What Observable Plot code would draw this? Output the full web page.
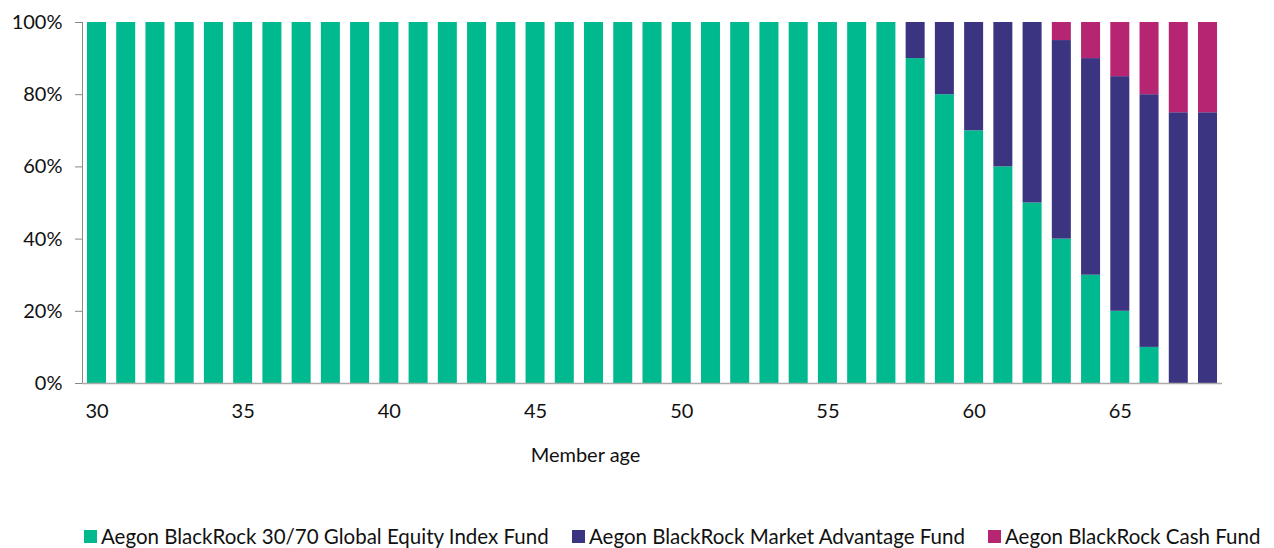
<!DOCTYPE html>
<html>
<head>
<meta charset="utf-8">
<script src="https://cdn.jsdelivr.net/npm/d3@7"></script>
<script src="https://cdn.jsdelivr.net/npm/@observablehq/plot@0.6"></script>
<style>
  html, body { margin: 0; padding: 0; background: #fff; }
  body { width: 1274px; height: 548px; overflow: hidden; font-family: Lato, "Open Sans", sans-serif; }
  #chart svg { display: block; }
  #legend { position: relative; height: 73px; font-size: 20.5px; color: #111; }
  .item { position: absolute; top: 49px; display: flex; align-items: center; white-space: nowrap; }
  .sw { width: 13px; height: 13px; margin-right: 4px; display: inline-block; }
</style>
</head>
<body>
<div id="chart"></div>
<div id="legend"></div>
<script>
const ages = [30,31,32,33,34,35,36,37,38,39,40,41,42,43,44,45,46,47,48,49,50,51,52,53,54,55,56,57,58,59,60,61,62,63,64,65,66,67,68];
const seriesNames = ["Aegon BlackRock 30/70 Global Equity Index Fund", "Aegon BlackRock Market Advantage Fund", "Aegon BlackRock Cash Fund"];
const seriesColors = ["#00B98E", "#3B3481", "#B52572"];
const equity = [100,100,100,100,100,100,100,100,100,100,100,100,100,100,100,100,100,100,100,100,100,100,100,100,100,100,100,100,90,80,70,60,50,40,30,20,10,0,0];
const marketAdvantage = [0,0,0,0,0,0,0,0,0,0,0,0,0,0,0,0,0,0,0,0,0,0,0,0,0,0,0,0,10,20,30,40,50,55,60,65,70,75,75];
const cash = [0,0,0,0,0,0,0,0,0,0,0,0,0,0,0,0,0,0,0,0,0,0,0,0,0,0,0,0,0,0,0,0,0,5,10,15,20,25,25];
const xTicks = [30,35,40,45,50,55,60,65];
const yTicks = [0,20,40,60,80,100];

const seriesValues = [equity, marketAdvantage, cash];
const data = [];
seriesNames.forEach((s, si) => ages.forEach((a, i) => data.push({age: a, fund: s, value: seriesValues[si][i]})));

const chart = Plot.plot({
  width: 1274,
  height: 475,
  marginLeft: 82,
  marginRight: 52,
  marginTop: 22,
  marginBottom: 92,
  style: {fontFamily: "Lato, 'Open Sans', sans-serif", fontSize: "20px", color: "#111", background: "#fff"},
  x: {type: "band", domain: ages, paddingInner: 0.35, paddingOuter: 0.17, round: false, label: null},
  y: {domain: [0, 100], label: null},
  color: {domain: seriesNames, range: seriesColors},
  marks: [
    Plot.barY(data, {x: "age", y: "value", fill: "fund", order: seriesNames}),
    Plot.frame({anchor: "left", stroke: "#888"}),
    Plot.axisY({ticks: yTicks, tickFormat: d => d + "%", tickSize: 7, tickPadding: 13, stroke: "#888", label: null, fontSize: 20}),
    Plot.axisX({ticks: xTicks, tickSize: 0, tickPadding: 20, label: null, fontSize: 20}),
    Plot.ruleY([0], {stroke: "#aaa", strokeWidth: 1.5}),
    Plot.text(["Member age"], {frameAnchor: "bottom", dy: 78, dx: -67, fontSize: 20})
  ]
});
document.getElementById("chart").appendChild(chart);

const legend = document.getElementById("legend");
const lefts = [84, 572, 988];
seriesNames.forEach((s, i) => {
  const it = document.createElement("div");
  it.className = "item";
  it.style.left = lefts[i] + "px";
  it.innerHTML = `<span class="sw" style="background:${seriesColors[i]}"></span><span>${s}</span>`;
  legend.appendChild(it);
});
</script>
</body>
</html>
